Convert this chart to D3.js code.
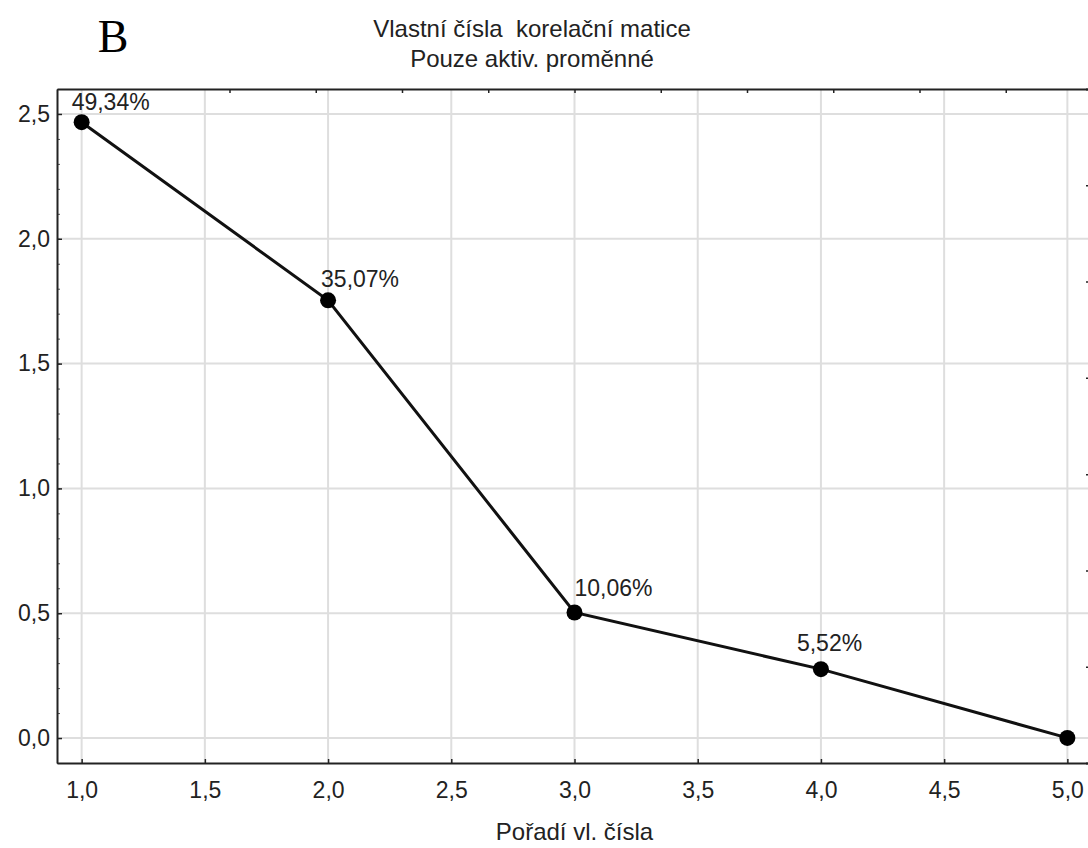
<!DOCTYPE html>
<html lang="cs">
<head>
	<meta charset="UTF-8">
	<title>Vlastní čísla korelační matice</title>
	<script src="https://cdn.jsdelivr.net/npm/d3@7"></script>
	<style>
		*{
			margin: 0px;
		}
		html,body{
			background: #fff;
			overflow: hidden;
		}
		text{
			font-family: "Liberation Sans", Arial, sans-serif;
			fill: #222;
		}
		.grid line{
			stroke: #dedede;
			stroke-width: 2;
		}
		.axis path{
			stroke: #222;
			stroke-width: 2;
		}
		.axis line{
			stroke: #222;
			stroke-width: 1.5;
		}
		.axis text{
			font-size: 23px;
		}
		.minor line{
			stroke: #555;
			stroke-width: 1;
		}
	</style>
</head>
<body>
	<svg id="svg"></svg>
	<script>
		// eigenvalue order and eigenvalues
		var order = [1, 2, 3, 4, 5];
		var eigen = [2.467, 1.7535, 0.503, 0.276, 0.0005];
		var labels = ["49,34%", "35,07%", "10,06%", "5,52%", ""];
		var xTicks = [1, 1.5, 2, 2.5, 3, 3.5, 4, 4.5, 5];
		var yTicks = [0, 0.5, 1, 1.5, 2, 2.5];

		// label nudges (style only)
		var labelDx = [-10, -7, 0, -24, 0],
			labelDy = [-12, -13, -16, -18, 0];

		var w = 1088, h = 848,
			margin = {left: 57, top: 89, right: -4, bottom: 85};

		var svg = d3.select("#svg").attr("width", w).attr("height", h);

		var fmt = function(d) { return d3.format(".1f")(d).replace(".", ","); };

		var x = d3.scaleLinear().domain([0.9, 5.1]).range([margin.left, w - margin.right]);
		var y = d3.scaleLinear().domain([-0.1, 2.6]).range([h - margin.bottom, margin.top]);
		var yRight = d3.scaleLinear().domain([0, 7]).range([h - margin.bottom, margin.top]);
		var xTop = d3.scaleLinear().domain([-1, 11]).range([margin.left, w - margin.right]);

		// grid
		var grid = svg.append("g").attr("class", "grid");
		grid.selectAll(".gx").data(xTicks).enter().append("line")
			.attr("x1", function(d) { return x(d); })
			.attr("x2", function(d) { return x(d); })
			.attr("y1", margin.top).attr("y2", h - margin.bottom);
		grid.selectAll(".gy").data(yTicks).enter().append("line")
			.attr("y1", function(d) { return y(d); })
			.attr("y2", function(d) { return y(d); })
			.attr("x1", margin.left).attr("x2", w);

		// minor ticks on the left axis
		svg.append("g").attr("class", "minor")
			.attr("transform", "translate(" + margin.left + ",0)")
			.call(d3.axisRight(y).tickValues(d3.range(-0.1, 2.61, 0.1)).tickSize(3).tickFormat(""))
			.select(".domain").remove();

		// left axis
		svg.append("g").attr("class", "axis")
			.attr("transform", "translate(" + margin.left + ",0)")
			.call(d3.axisLeft(y).tickValues(yTicks).tickSizeInner(-5).tickSizeOuter(0).tickPadding(7).tickFormat(fmt));

		// bottom axis
		svg.append("g").attr("class", "axis")
			.attr("transform", "translate(0," + (h - margin.bottom) + ")")
			.call(d3.axisBottom(x).tickValues(xTicks).tickSizeInner(-4).tickSizeOuter(0).tickPadding(19).tickFormat(fmt));

		// top frame with its own ticks
		svg.append("g").attr("class", "axis")
			.attr("transform", "translate(0," + margin.top + ")")
			.call(d3.axisTop(xTop).tickValues(d3.range(1, 11)).tickSizeInner(-4).tickSizeOuter(0).tickFormat(""));

		// right frame ticks (axis sits just past the picture edge)
		svg.append("g").attr("class", "minor")
			.attr("transform", "translate(" + (w - margin.right) + ",0)")
			.call(d3.axisLeft(yRight).tickValues(d3.range(0, 7.01, 0.2)).tickSize(3).tickFormat(""))
			.selectAll("line").attr("stroke", "#ddd");
		svg.append("g").attr("class", "axis")
			.attr("transform", "translate(" + (w - margin.right) + ",0)")
			.call(d3.axisLeft(yRight).tickValues(d3.range(1, 7)).tickSize(6).tickFormat(""));

		// line and points
		var pts = order.map(function(d, i) { return [d, eigen[i]]; });
		svg.append("path")
			.datum(pts)
			.attr("fill", "none")
			.attr("stroke", "#111")
			.attr("stroke-width", 3)
			.attr("d", d3.line().x(function(d) { return x(d[0]); }).y(function(d) { return y(d[1]); }));

		svg.selectAll(".pt").data(pts).enter().append("circle")
			.attr("cx", function(d) { return x(d[0]); })
			.attr("cy", function(d) { return y(d[1]); })
			.attr("r", 8)
			.attr("fill", "#000");

		svg.selectAll(".lbl").data(pts).enter().append("text")
			.attr("x", function(d, i) { return x(d[0]) + labelDx[i]; })
			.attr("y", function(d, i) { return y(d[1]) + labelDy[i]; })
			.attr("font-size", "23px")
			.text(function(d, i) { return labels[i]; });

		// titles
		svg.append("text")
			.attr("x", 532).attr("y", 37)
			.attr("text-anchor", "middle")
			.attr("font-size", "24px")
			.attr("xml:space", "preserve")
			.text("Vlastní čísla  korelační matice");
		svg.append("text")
			.attr("x", 532).attr("y", 67)
			.attr("text-anchor", "middle")
			.attr("font-size", "24px")
			.text("Pouze aktiv. proměnné");
		svg.append("text")
			.attr("x", 113).attr("y", 52)
			.attr("text-anchor", "middle")
			.attr("font-size", "46px")
			.style("font-family", "'Liberation Serif', 'Times New Roman', serif")
			.style("fill", "#000")
			.text("B");
		svg.append("text")
			.attr("x", x(3)).attr("y", 840)
			.attr("text-anchor", "middle")
			.attr("font-size", "24px")
			.text("Pořadí vl. čísla");
	</script>
</body>
</html>
